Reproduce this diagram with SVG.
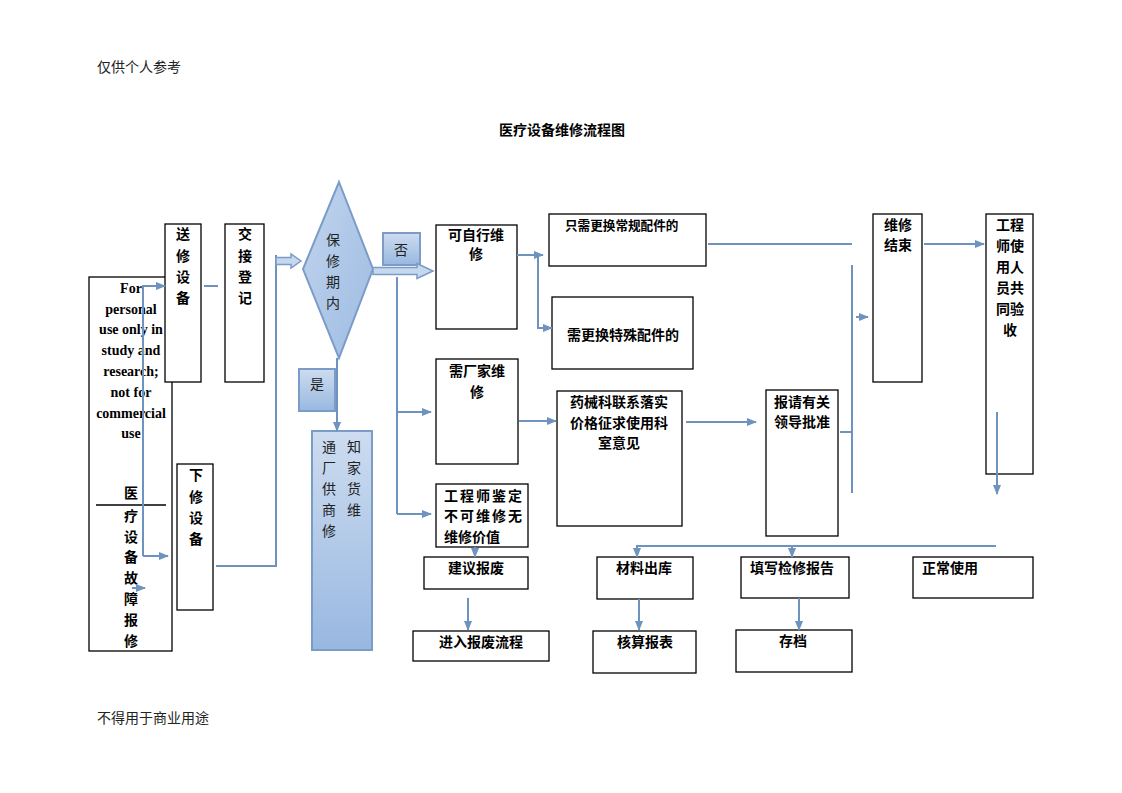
<svg xmlns="http://www.w3.org/2000/svg" width="1122" height="793" viewBox="0 0 1122 793">
<defs>
<linearGradient id="gb" x1="0" y1="0" x2="0" y2="1"><stop offset="0" stop-color="#cddcf0"/><stop offset="1" stop-color="#98b8e0"/></linearGradient>
<linearGradient id="gd" x1="0" y1="0" x2="1" y2="1"><stop offset="0" stop-color="#c2d5ee"/><stop offset="1" stop-color="#9dbbe2"/></linearGradient>
<marker id="ah" markerWidth="10" markerHeight="8" refX="9" refY="4" orient="auto" markerUnits="userSpaceOnUse"><path d="M0,0 L10,4 L0,8 Z" fill="#6f93bf"/></marker>
</defs>
<style>
.box{fill:#fff;stroke:#000;stroke-width:1.3}
.bl{fill:url(#gb);stroke:#7a9cc6;stroke-width:2}
.c{fill:none;stroke:#6f93bf;stroke-width:2}
.a{fill:none;stroke:#6f93bf;stroke-width:2;marker-end:url(#ah)}
.t{font-family:"Liberation Sans","Noto Sans CJK SC",sans-serif;font-size:14px;font-weight:bold;fill:#000}
.m{text-anchor:middle}
.n{font-family:"Liberation Serif","Noto Sans CJK SC",serif;font-size:14px;fill:#222}
.e{font-family:"Liberation Serif","Noto Sans CJK SC",serif;font-size:14px;font-weight:bold;fill:#000;text-anchor:middle}
</style>
<rect width="1122" height="793" fill="#fff"/>
<text class="n" x="97" y="72" fill="#333">仅供个人参考</text>
<text class="n" x="97" y="723" fill="#333">不得用于商业用途</text>
<text class="t" x="499" y="135">医疗设备维修流程图</text>

<g id="n-fault">
<rect class="box" x="89" y="277" width="83" height="374"/>
<text class="e" x="131"><tspan x="131" y="293">For</tspan><tspan x="131" y="314">personal</tspan><tspan x="131" y="334">use only in</tspan><tspan x="131" y="355">study and</tspan><tspan x="131" y="376">research;</tspan><tspan x="131" y="397">not for</tspan><tspan x="131" y="418">commercial</tspan><tspan x="131" y="438">use</tspan></text>
<line x1="96" y1="505" x2="166" y2="505" stroke="#000" stroke-width="1.3"/>
<text class="t m"><tspan x="131" y="498">医</tspan><tspan x="131" y="521">疗</tspan><tspan x="131" y="542">设</tspan><tspan x="131" y="562">备</tspan><tspan x="131" y="583">故</tspan><tspan x="131" y="604">障</tspan><tspan x="131" y="625">报</tspan><tspan x="131" y="646">修</tspan></text>
</g>
<g id="n-send">
<rect class="box" x="165" y="224" width="36" height="158"/>
<text class="t m"><tspan x="183" y="239">送</tspan><tspan x="183" y="261">修</tspan><tspan x="183" y="282">设</tspan><tspan x="183" y="303">备</tspan></text>
</g>
<g id="n-handover">
<rect class="box" x="225" y="224" width="39" height="158"/>
<text class="t m"><tspan x="245" y="239">交</tspan><tspan x="245" y="261">接</tspan><tspan x="245" y="282">登</tspan><tspan x="245" y="303">记</tspan></text>
</g>
<g id="n-down">
<rect class="box" x="177" y="464" width="36" height="146"/>
<text class="t m"><tspan x="196" y="480">下</tspan><tspan x="196" y="502">修</tspan><tspan x="196" y="523">设</tspan><tspan x="196" y="544">备</tspan></text>
</g>
<g id="n-warranty">
<polygon points="339,182 373,269 339,358 303,269" fill="url(#gd)" stroke="#7a9cc6" stroke-width="2"/>
<text class="n m"><tspan x="333" y="245">保</tspan><tspan x="333" y="266">修</tspan><tspan x="333" y="287">期</tspan><tspan x="333" y="308">内</tspan></text>
</g>
<g id="n-no">
<rect class="bl" x="383" y="233" width="37" height="32"/>
<text class="n m" x="401" y="255">否</text>
</g>
<g id="n-yes">
<rect class="bl" x="299" y="369" width="36" height="42"/>
<text class="n m" x="317" y="389">是</text>
</g>
<g id="n-notify">
<rect class="bl" x="312" y="431" width="60" height="219"/>
<text class="n m"><tspan x="329" y="452">通</tspan><tspan x="329" y="473">厂</tspan><tspan x="329" y="494">供</tspan><tspan x="329" y="515">商</tspan><tspan x="329" y="536">修</tspan></text>
<text class="n m"><tspan x="354" y="452">知</tspan><tspan x="354" y="473">家</tspan><tspan x="354" y="494">货</tspan><tspan x="354" y="515">维</tspan></text>
</g>
<g id="n-self">
<rect class="box" x="436" y="225" width="81" height="104"/>
<text class="t m"><tspan x="476" y="240">可自行维</tspan><tspan x="476" y="259">修</tspan></text>
</g>
<g id="n-regular">
<rect class="box" x="549" y="214" width="157" height="52"/>
<text class="t" x="565" y="230" style="font-size:12.6px">只需更换常规配件的</text>
</g>
<g id="n-special">
<rect class="box" x="552" y="297" width="141" height="72"/>
<text class="t m" x="623" y="340">需更换特殊配件的</text>
</g>
<g id="n-factory">
<rect class="box" x="436" y="359" width="82" height="105"/>
<text class="t m"><tspan x="477" y="376">需厂家维</tspan><tspan x="477" y="397">修</tspan></text>
</g>
<g id="n-dept">
<rect class="box" x="557" y="391" width="125" height="135"/>
<text class="t m"><tspan x="619" y="407">药械科联系落实</tspan><tspan x="619" y="428">价格征求使用科</tspan><tspan x="619" y="448">室意见</tspan></text>
</g>
<g id="n-engineer">
<rect class="box" x="436" y="484" width="92" height="63"/>
<text class="t"><tspan x="444" y="501" textLength="78">工程师鉴定</tspan><tspan x="444" y="521" textLength="78">不可维修无</tspan><tspan x="444" y="542">维修价值</tspan></text>
</g>
<g id="n-scrap">
<rect class="box" x="424" y="557" width="104" height="32"/>
<text class="t m" x="476" y="573">建议报废</text>
</g>
<g id="n-scrapflow">
<rect class="box" x="413" y="631" width="136" height="30"/>
<text class="t m" x="481" y="647">进入报废流程</text>
</g>
<g id="n-material">
<rect class="box" x="597" y="557" width="96" height="42"/>
<text class="t m" x="644" y="573">材料出库</text>
</g>
<g id="n-account">
<rect class="box" x="593" y="631" width="103" height="42"/>
<text class="t m" x="645" y="647">核算报表</text>
</g>
<g id="n-approve">
<rect class="box" x="766" y="390" width="72" height="146"/>
<text class="t m"><tspan x="802" y="407">报请有关</tspan><tspan x="802" y="427">领导批准</tspan></text>
</g>
<g id="n-end">
<rect class="box" x="873" y="214" width="49" height="168"/>
<text class="t m"><tspan x="898" y="230">维修</tspan><tspan x="898" y="250">结束</tspan></text>
</g>
<g id="n-accept">
<rect class="box" x="986" y="214" width="47" height="260"/>
<text class="t m"><tspan x="1010" y="230">工程</tspan><tspan x="1010" y="251">师使</tspan><tspan x="1010" y="272">用人</tspan><tspan x="1010" y="293">员共</tspan><tspan x="1010" y="314">同验</tspan><tspan x="1010" y="335">收</tspan></text>
</g>
<g id="n-report">
<rect class="box" x="741" y="557" width="108" height="41"/>
<text class="t m" x="792" y="573">填写检修报告</text>
</g>
<g id="n-archive">
<rect class="box" x="736" y="630" width="116" height="42"/>
<text class="t m" x="793" y="646">存档</text>
</g>
<g id="n-normal">
<rect class="box" x="913" y="557" width="120" height="41"/>
<text class="t" x="922" y="573">正常使用</text>
</g>

<g id="connectors">
<path class="a" d="M143,556 V286 H165"/>
<path class="a" d="M143,556 H168"/>
<path class="a" d="M132,588 H145"/>
<path class="c" d="M204,286 H218"/>
<path class="c" d="M216,566 H276 V255"/>
<polygon points="276,257.5 291,257.5 291,254 301,261 291,268 291,264.5 276,264.5" fill="#c5d8ef" stroke="#7a9cc6" stroke-width="1.5"/>
<polygon points="373,267.5 417,267.5 417,263.5 433,271 417,278.5 417,274.5 373,274.5" fill="#c5d8ef" stroke="#7a9cc6" stroke-width="1.5"/>
<path class="a" d="M337,358 V431"/>
<path class="c" d="M397,277 V514"/>
<path class="a" d="M397,412 H431"/>
<path class="a" d="M397,514 H431"/>
<path class="a" d="M517,255 H543"/>
<path class="a" d="M538,255 V328 H552"/>
<path class="a" d="M519,421 H556"/>
<path class="a" d="M475,547 V557"/>
<path class="a" d="M468,598 V630"/>
<path class="c" d="M708,244 H852"/>
<path class="a" d="M686,422 H756"/>
<path class="c" d="M840,432 H852"/>
<path class="c" d="M852,265 V493"/>
<path class="a" d="M856,317 H868"/>
<path class="a" d="M924,244 H984"/>
<path class="a" d="M997,412 V494"/>
<path class="a" d="M996,546 H637 V557"/>
<path class="a" d="M792,546 V557"/>
<path class="a" d="M639,599 V630"/>
<path class="a" d="M799,598 V630"/>
</g>
</svg>
